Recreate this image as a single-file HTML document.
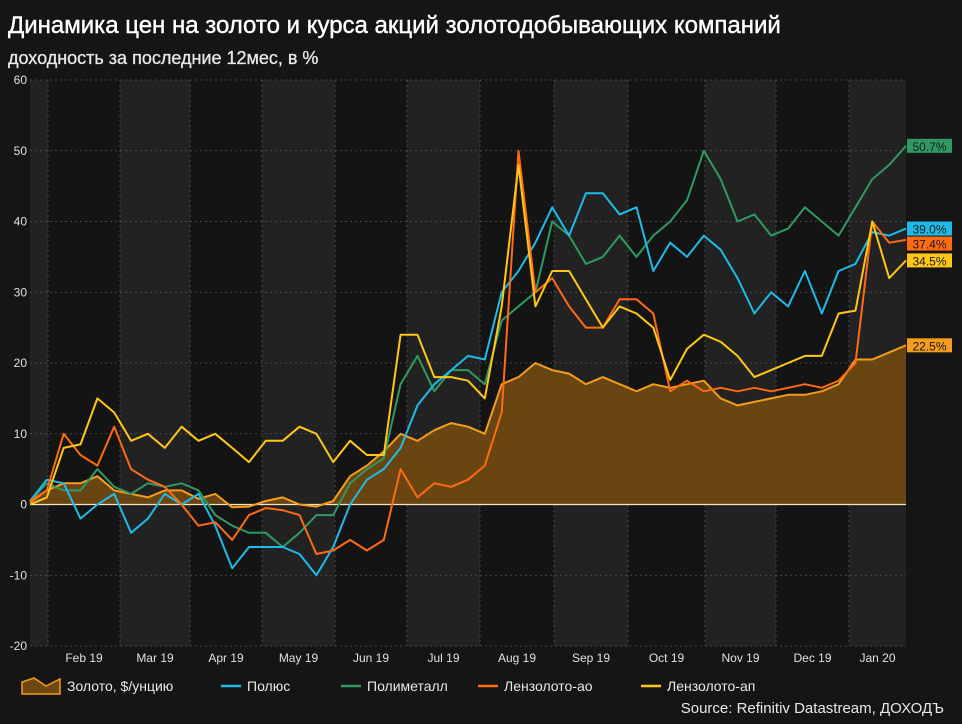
<!DOCTYPE html>
<html><head><meta charset="utf-8"><style>
html,body{margin:0;padding:0;background:#151515;}
body{width:962px;height:719px;overflow:hidden;font-family:"Liberation Sans","DejaVu Sans",sans-serif;}
svg text{font-family:"Liberation Sans","DejaVu Sans",sans-serif;}
</style></head><body>
<svg id="chart" width="962" height="719" xmlns="http://www.w3.org/2000/svg">
<rect x="0" y="0" width="962" height="719" fill="#151515"/>
<text x="8" y="33" fill="#ffffff" font-size="24" stroke="#ffffff" stroke-width="0.4">Динамика цен на золото и курса акций золотодобывающих компаний</text>
<text x="8" y="64" fill="#e8e8e8" font-size="18" stroke="#e8e8e8" stroke-width="0.3">доходность за последние 12мес, в %</text>
<g id="bands"></g>
<g id="grid"></g>
<g id="series"></g>
<g id="axes"></g>
<g id="legend"></g>
<text x="944" y="713" fill="#e8e8e8" font-size="15" text-anchor="end">Source: Refinitiv Datastream, ДОХОДЪ</text>
</svg>
<script>
const yTicks=[60,50,40,30,20,10,0,-10,-20];
const monthLabels=["Feb 19","Mar 19","Apr 19","May 19","Jun 19","Jul 19","Aug 19","Sep 19","Oct 19","Nov 19","Dec 19","Jan 20"];
const gold=[0.3,2,3,3,4,2,1.5,1,2,2,0.8,1.5,-0.4,-0.3,0.5,1,0,-0.3,0.5,4,5.5,7.5,10,9,10.5,11.5,11,10,17,18,20,19,18.5,17,18,17,16,17,16.5,17,17.5,15,14,14.5,15,15.5,15.5,16,17,20.5,20.5,21.5,22.5];
const polyus=[0.5,3.5,3,-2,0,1.5,-4,-2,1.5,0,1.5,-3,-9,-6,-6,-6,-7,-10,-6,0,3.5,5,8,14,17,19,21,20.5,30,33,37,42,38,44,44,41,42,33,37,35,38,36,32,27,30,28,33,27,33,34,38.5,38,39];
const polymetal=[0.5,3,2,2,5,2.5,1.5,3,2.5,3,2,-1.5,-3,-4,-4,-6,-4,-1.5,-1.5,3,5,6.5,17,21,16,19,19,17,26,28,30,40,38,34,35,38,35,38,40,43,50,46,40,41,38,39,42,40,38,42,46,48,50.7];
const lenzAo=[0.5,2,10,7,5.5,11,5,3.5,2.5,0,-3,-2.5,-5,-1.5,-0.5,-0.8,-1.5,-7,-6.5,-5,-6.5,-5,5,1,3,2.5,3.5,5.5,13,50,30,32,28,25,25,29,29,27,16,17.5,16,16.5,16,16.5,16,16.5,17,16.5,17.5,20,40,37,37.4];
const lenzAp=[0,1,8,8.5,15,13,9,10,8,11,9,10,8,6,9,9,11,10,6,9,7,7,24,24,18,18,17.5,15,28,48,28,33,33,29,25,28,27,25,17.6,22,24,23,21,18,19,20,21,21,27,27.4,40,32,34.5];
const endLabels=["50.7%","39.0%","37.4%","34.5%","22.5%"];

const X0=30,X1=906,Y0=504.5,YS=7.075,N=gold.length;
const xs=i=>X0+i*(X1-X0)/(N-1);
const ys=v=>Y0-v*YS;
const NS="http://www.w3.org/2000/svg";
function mk(tag,parent){const e=document.createElementNS(NS,tag);document.getElementById(parent).appendChild(e);return e;}

const bounds=[X0,48,120,190,262,335,407,480,554,628,705,776,849,X1];
for(let b=0;b<bounds.length-1;b++){
  const r=mk('rect','bands');
  
  
  r.setAttribute('x',bounds[b]);r.setAttribute('y',ys(60));
  r.setAttribute('width',bounds[b+1]-bounds[b]);r.setAttribute('height',ys(-20)-ys(60));
  r.setAttribute('fill',b%2===0?'#222222':'#141414');
  if(b>0){const l=mk('line','grid');
    
    
    l.setAttribute('x1',bounds[b]);l.setAttribute('x2',bounds[b]);l.setAttribute('y1',ys(60));l.setAttribute('y2',ys(-20));
    l.setAttribute('stroke','#555');l.setAttribute('stroke-dasharray','2,3');l.setAttribute('stroke-width','0.8');}
}
yTicks.forEach(v=>{
  const l=mk('line','grid');
  
  
  l.setAttribute('x1',X0);l.setAttribute('x2',X1);l.setAttribute('y1',ys(v));l.setAttribute('y2',ys(v));
  l.setAttribute('stroke','#555');l.setAttribute('stroke-dasharray','2,3');l.setAttribute('stroke-width','0.8');
  const t=mk('text','axes');
  
  
  t.setAttribute('x',27);t.setAttribute('y',ys(v)+4);t.setAttribute('text-anchor','end');
  t.setAttribute('fill','#e0e0e0');t.setAttribute('font-size','12');t.textContent=v;
});
monthLabels.forEach((m,i)=>{
  const t=mk('text','axes');
  
  
  t.setAttribute('x',(bounds[i+1]+bounds[i+2])/2);t.setAttribute('y',662);t.setAttribute('text-anchor','middle');
  t.setAttribute('fill','#e0e0e0');t.setAttribute('font-size','12');t.textContent=m;
});
const pts=gold.map((v,i)=>xs(i).toFixed(1)+','+ys(v).toFixed(1));
const area=mk('path','series');


area.setAttribute('d','M'+xs(0)+','+Y0+' L'+pts.join(' L')+' L'+xs(N-1)+','+Y0+' Z');
area.setAttribute('fill','#6e4812');area.setAttribute('fill-opacity','0.95');
const zl=mk('line','series');


zl.setAttribute('x1',X0);zl.setAttribute('x2',X1);zl.setAttribute('y1',Y0);zl.setAttribute('y2',Y0);
zl.setAttribute('stroke','#f5e6c0');zl.setAttribute('stroke-width','1.2');
const series=[[gold,'#f39c1e','gold-line'],[polymetal,'#2e9a62','polymetal-line'],[polyus,'#1fbbe8','polyus-line'],[lenzAo,'#ff6a12','lenzoloto-ao-line'],[lenzAp,'#ffc61a','lenzoloto-ap-line']];
series.forEach(s=>{
  const p=mk('polyline','series');
  
  
  p.setAttribute('points',s[0].map((v,i)=>xs(i).toFixed(1)+','+ys(v).toFixed(1)).join(' '));
  p.setAttribute('fill','none');p.setAttribute('stroke',s[1]);p.setAttribute('stroke-width','2');p.setAttribute('stroke-linejoin','round');
});
// end labels, de-overlapped (sorted top to bottom)
const lab=[[polymetal,'#2e9a62',endLabels[0]],[polyus,'#1fbbe8',endLabels[1]],[lenzAo,'#ff6a12',endLabels[2]],[lenzAp,'#ffc61a',endLabels[3]],[gold,'#f39c1e',endLabels[4]]];
let prevY=-100;
lab.forEach(l=>{
  let y=ys(l[0][N-1]);
  if(y<prevY+15)y=prevY+15;
  prevY=y;
  const r=mk('rect','axes');
  
  
  r.setAttribute('x',907);r.setAttribute('y',y-7);r.setAttribute('width',45);r.setAttribute('height',14);r.setAttribute('fill',l[1]);
  const t=mk('text','axes');
  
  
  t.setAttribute('x',929.5);t.setAttribute('y',y+5);t.setAttribute('text-anchor','middle');
  t.setAttribute('fill','#1a1a1a');t.setAttribute('font-size','12');t.textContent=l[2];
});
const leg=[['Золото, $/унцию','#f39c1e',22,'area'],['Полюс','#1fbbe8',225,'line'],['Полиметалл','#2e9a62',345,'line'],['Лензолото-ао','#ff6a12',482,'line'],['Лензолото-ап','#ffc61a',645,'line']];
leg.forEach(e=>{
  if(e[3]==='area'){
    const p=mk('path','legend');
    
    
    p.setAttribute('d','M'+e[2]+',694 L'+e[2]+',682 L'+(e[2]+12)+',678 L'+(e[2]+24)+',686 L'+(e[2]+38)+',679 L'+(e[2]+38)+',694 Z');
    p.setAttribute('fill','#6e4812');p.setAttribute('stroke','#f39c1e');p.setAttribute('stroke-width','1.5');
  } else {
    const l=mk('line','legend');
    
    
    l.setAttribute('x1',e[2]-4);l.setAttribute('x2',e[2]+16);l.setAttribute('y1',686);l.setAttribute('y2',686);
    l.setAttribute('stroke',e[1]);l.setAttribute('stroke-width','2.5');
  }
  const t=mk('text','legend');
  
  
  t.setAttribute('x',e[3]==='area'?e[2]+45:e[2]+22);t.setAttribute('y',691);
  t.setAttribute('fill','#e8e8e8');t.setAttribute('font-size','14');t.textContent=e[0];
});
</script>
</body></html>
